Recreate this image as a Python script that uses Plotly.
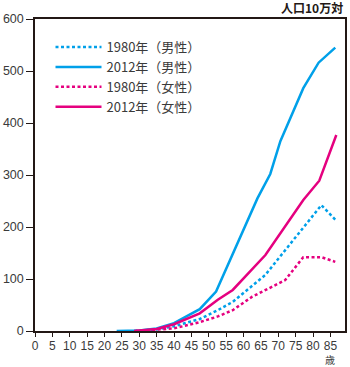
import plotly.graph_objects as go

# ---- data ----
age_m1980 = [28.5, 35, 40, 47.4, 52.6, 56.9, 66.3, 77.2, 82.4, 86.7]
val_m1980 = [0, 3, 9, 23, 40, 56, 108, 200, 242, 212]

age_m2012 = [23.5, 30, 35, 40, 47.4, 52.1, 64, 67.7, 70.6, 77.2, 81.6, 86.4]
val_m2012 = [0, 1, 5, 15, 42, 76, 255, 302, 365, 467, 516, 545]

age_f1980 = [29, 35, 40, 47.4, 52.6, 56.9, 62.5, 67.3, 72, 77.2, 82.4, 86.4]
val_f1980 = [0, 2, 5, 17, 28, 40, 66, 82, 98, 142, 142, 133]

age_f2012 = [28.5, 35, 40, 47.4, 52.6, 56.9, 66.3, 77.2, 81.8, 86.7]
val_f2012 = [0, 4, 13, 34, 60, 79, 146, 252, 289, 377]

names = ["1980年（男性）", "2012年（男性）", "1980年（女性）", "2012年（女性）"]
x_ticks = list(range(0, 90, 5))
y_ticks = [0, 100, 200, 300, 400, 500, 600]

BLUE = "#00a0e9"
PINK = "#e5007f"
AXIS = "#231815"
TXT = "#3a3a3a"
DOT = "3px,2.5px"

fig = go.Figure()
series = [
    (age_m1980, val_m1980, names[0], BLUE, DOT),
    (age_m2012, val_m2012, names[1], BLUE, "solid"),
    (age_f1980, val_f1980, names[2], PINK, DOT),
    (age_f2012, val_f2012, names[3], PINK, "solid"),
]
for xs, ys, nm, col, dash in series:
    fig.add_trace(go.Scatter(
        x=xs, y=ys, name=nm, mode="lines",
        line=dict(color=col, width=2.5, dash=dash),
        hoverinfo="skip",
    ))

fig.update_layout(
    width=350, height=367,
    margin=dict(l=33, r=3, t=19, b=36),
    paper_bgcolor="white", plot_bgcolor="white",
    showlegend=True,
    legend=dict(
        x=0.05, y=0.958, xanchor="left", yanchor="top",
        bgcolor="rgba(0,0,0,0)", borderwidth=0,
        font=dict(family="Noto Sans CJK JP", size=13, color=TXT),
        tracegroupgap=0, itemwidth=46,
    ),
    font=dict(family="Liberation Sans", color=TXT),
)

fig.update_xaxes(
    range=[0, 89.2], tickmode="array", tickvals=x_ticks,
    ticktext=[str(v) for v in x_ticks],
    showgrid=False, zeroline=False,
    showline=True, linecolor=AXIS, linewidth=1.5, mirror=True,
    ticks="outside", ticklen=4, tickwidth=1.2, tickcolor=AXIS,
    ticklabelstandoff=-1,
    tickfont=dict(family="Liberation Sans", size=12, color=TXT),
)
fig.update_yaxes(
    range=[0, 600], tickmode="array", tickvals=y_ticks,
    showgrid=False, zeroline=False,
    showline=True, linecolor=AXIS, linewidth=1.5, mirror=True,
    ticks="outside", ticklen=7, tickwidth=1.2, tickcolor=AXIS,
    tickfont=dict(family="Liberation Sans", size=12.5, color=TXT),
)

fig.add_annotation(
    text="<b>人口10万対</b>", xref="paper", yref="paper",
    x=1.0, y=1.0, xanchor="right", yanchor="bottom", yshift=1,
    showarrow=False,
    font=dict(family="Noto Sans CJK JP", size=12, color=AXIS),
)
fig.add_annotation(
    text="歳", xref="x", yref="paper",
    x=85, y=0, xanchor="center", yanchor="top", yshift=-20,
    showarrow=False, borderpad=0,
    font=dict(family="Noto Sans CJK JP", size=10, color=TXT),
)

fig.write_html("out.html")
